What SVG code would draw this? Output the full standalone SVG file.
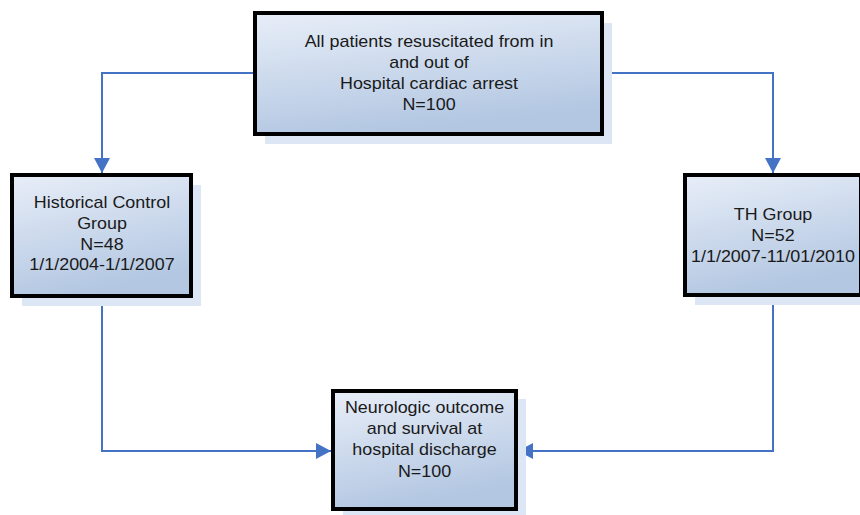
<svg xmlns="http://www.w3.org/2000/svg" width="860" height="515" viewBox="0 0 860 515">
<style>
.shadow{fill:#dce6f4;stroke:none}
.box{fill:url(#g);stroke:#000;stroke-width:4}
.t{font-family:"Liberation Sans",Arial,sans-serif;font-size:16px;fill:#1a1a1a;text-anchor:middle}
.c{fill:none;stroke:#4472c4;stroke-width:2}
</style>
<defs>
<linearGradient id="g" x1="0" y1="0" x2="0.3" y2="1">
<stop offset="0" stop-color="#e8eef8"/>
<stop offset="1" stop-color="#b3c7e2"/>
</linearGradient>
<marker id="a" markerUnits="userSpaceOnUse" markerWidth="16" markerHeight="16" refX="15" refY="8" orient="auto">
<path d="M0,0 L15,8 L0,16 z" fill="#4472c4"/>
</marker>
</defs>
<rect width="860" height="515" fill="#fff"/>
<g id="connectors">
<path class="c" d="M255,73 H102 V173" marker-end="url(#a)"/>
<path class="c" d="M602,73 H773 V173" marker-end="url(#a)"/>
<path class="c" d="M102,296 V451 H331" marker-end="url(#a)"/>
<path class="c" d="M773,295 V451 H518" marker-end="url(#a)"/>
</g>
<g id="top">
<rect class="shadow" x="265" y="23" width="347" height="121"/>
<rect class="box" x="255" y="13" width="347" height="121"/>
<text class="t" transform="translate(429 0) scale(1.12 1)"><tspan x="0" y="47">All patients resuscitated from in</tspan><tspan x="0" y="68">and out of</tspan><tspan x="0" y="89">Hospital cardiac arrest</tspan><tspan x="0" y="110">N=100</tspan></text>
</g>
<g id="historical">
<rect class="shadow" x="22" y="185" width="179" height="121"/>
<rect class="box" x="12" y="175" width="179" height="121"/>
<text class="t" transform="translate(102 0) scale(1.12 1)"><tspan x="0" y="208">Historical Control</tspan><tspan x="0" y="229">Group</tspan><tspan x="0" y="250">N=48</tspan><tspan x="0" y="270">1/1/2004-1/1/2007</tspan></text>
</g>
<g id="th">
<rect class="shadow" x="695" y="185" width="176" height="120"/>
<rect class="box" x="685" y="175" width="176" height="120"/>
<text class="t" transform="translate(773 0) scale(1.12 1)"><tspan x="0" y="220">TH Group</tspan><tspan x="0" y="241">N=52</tspan><tspan x="0" y="262">1/1/2007-11/01/2010</tspan></text>
</g>
<g id="outcome">
<rect class="shadow" x="343" y="399" width="183" height="118"/>
<rect class="box" x="333" y="391" width="183" height="118"/>
<text class="t" transform="translate(424.5 0) scale(1.12 1)"><tspan x="0" y="413">Neurologic outcome</tspan><tspan x="0" y="434">and survival at</tspan><tspan x="0" y="455">hospital discharge</tspan><tspan x="0" y="477">N=100</tspan></text>
</g>
</svg>
